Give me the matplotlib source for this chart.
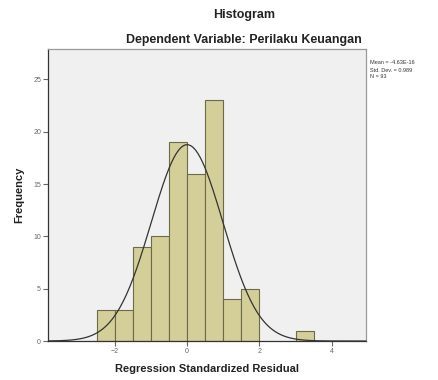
import matplotlib
matplotlib.use('Agg')
import matplotlib.pyplot as plt
import numpy as np

plt.rcParams['font.family'] = ['Liberation Sans', 'DejaVu Sans']

# histogram bins (left edges) and counts
bin_left = [-2.5, -2.0, -1.5, -1.0, -0.5, 0.0, 0.5, 1.0, 1.5, 3.0]
counts = [3, 3, 9, 10, 19, 16, 23, 4, 5, 1]
bin_width = 0.5

mean = -4.63e-16
std = 0.989
n = 93

stats_text = ["Mean = -4.63E-16", "Std. Dev. = 0.989", "N = 93"]

fig = plt.figure(figsize=(4.39, 3.80), dpi=100)
ax = fig.add_axes([0.1093, 0.1026, 0.7244, 0.7684])
ax.set_facecolor('#f0f0f0')

ax.bar(bin_left, counts, width=bin_width, align='edge',
       color='#d4cf98', edgecolor='#6b6a4a', linewidth=0.8, zorder=2)

# normal curve
xs = np.linspace(-3.85, 4.95, 300)
ys = n * bin_width / (std * np.sqrt(2 * np.pi)) * np.exp(-0.5 * ((xs - mean) / std) ** 2)
ax.plot(xs, ys, color='#333333', linewidth=0.9, zorder=3)

ax.set_xlim(-3.85, 4.95)
ax.set_ylim(0, 27.9)
ax.set_xticks([-2, 0, 2, 4])
ax.set_yticks([0, 5, 10, 15, 20, 25])
ax.tick_params(labelsize=5, colors='#666666', length=3.5, width=0.8, pad=1.5)
for s in ['top', 'right']:
    ax.spines[s].set_color('#999999')
for s in ['left', 'bottom']:
    ax.spines[s].set_color('#333333')
for sp in ax.spines.values():
    sp.set_linewidth(0.9)

ax.set_xlabel('Regression Standardized Residual', fontsize=8, fontweight='bold',
              color='#222222')
ax.set_ylabel('Frequency', fontsize=8, fontweight='bold', color='#222222')
ax.xaxis.set_label_coords(0.5, -0.08)
ax.yaxis.set_label_coords(-0.075, 0.5)

fig.text(244 / 439, 1 - 15 / 380, 'Histogram', ha='center', va='center',
         fontsize=9, fontweight='bold', color='#222222')
fig.text(244 / 439, 1 - 40 / 380, 'Dependent Variable: Perilaku Keuangan',
         ha='center', va='center', fontsize=8.9, fontweight='bold', color='#222222')

for i, t in enumerate(stats_text):
    fig.text(370 / 439, 1 - (63 + i * 7) / 380, t, ha='left', va='center',
             fontsize=4, color='#333333')

fig.savefig('out.png', dpi=100)
